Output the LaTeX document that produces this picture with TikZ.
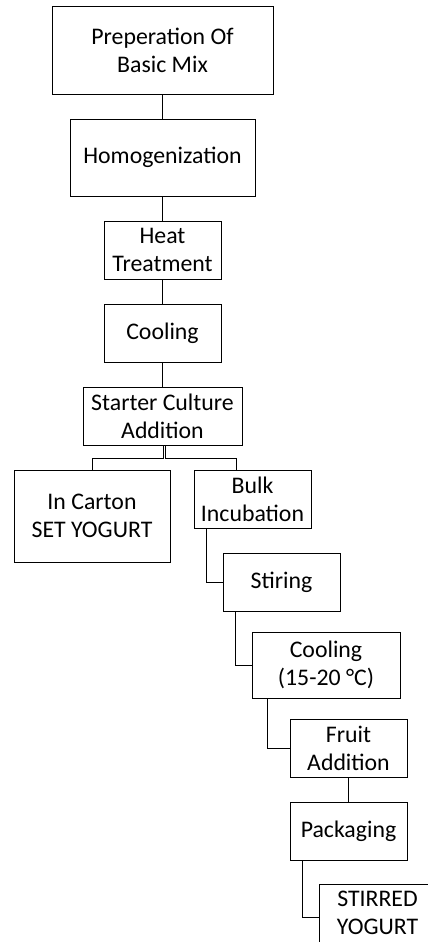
\documentclass[tikz,border=0pt]{standalone}
\usepackage{fontspec}
\setmainfont{Carlito}
\usepackage{tikz}

\begin{document}
\begin{tikzpicture}[x=1pt,y=-1pt,
        main/.style = {draw, rectangle, align=center, inner sep=0pt, line width=1pt,
                       font=\fontsize{23.8}{28}\selectfont},
        link/.style = {line width=1pt}]
        \clip (0,0) rectangle (428,942);
        \node[main, minimum width=221pt, minimum height=87pt] (1) at (162.5,50.5) {Preperation Of\\Basic Mix};
        \node[main, minimum width=185pt, minimum height=77pt] (2) at (162.5,157.5) {Homogenization};
        \node[main, minimum width=117pt, minimum height=58pt] (3) at (162.5,250) {Heat\\Treatment};
        \node[main, minimum width=117pt, minimum height=58pt] (4) at (162.5,333) {Cooling};
        \node[main, minimum width=159pt, minimum height=58pt] (5) at (162.5,416) {Starter Culture\\Addition};
        \node[main, minimum width=156pt, minimum height=92pt] (6) at (92,516) {In Carton\\SET YOGURT};
        \node[main, minimum width=117pt, minimum height=58pt] (7) at (252.5,499) {Bulk\\Incubation};
        \node[main, minimum width=117pt, minimum height=58pt] (8) at (281.5,582) {Stiring};
        \node[main, minimum width=148pt, minimum height=66pt] (9) at (326,665) {Cooling\\(15-20 °C)};
        \node[main, minimum width=117pt, minimum height=58pt] (10) at (348.5,748) {Fruit\\Addition};
        \node[main, minimum width=117pt, minimum height=58pt] (11) at (348.5,831) {Packaging};
        \node[main, minimum width=117pt, minimum height=58pt] (12) at (377.5,913) {STIRRED\\YOGURT};
        \draw[link] (1) -- (2);
        \draw[link] (2) -- (3);
        \draw[link] (3) -- (4);
        \draw[link] (4) -- (5);
        \draw[link] ([xshift=0.5pt]5.south) -- ++(0,13) -| (6.north);
        \draw[link] ([xshift=2.5pt]5.south) -- ++(0,13) -| ([xshift=-16.5pt]7.north);
        \draw[link] ([xshift=-46.5pt]7.south) |- (8.west);
        \draw[link] ([xshift=-46.5pt]8.south) |- (9.west);
        \draw[link] ([xshift=-59pt]9.south) |- (10.west);
        \draw[link] (10) -- (11);
        \draw[link] ([xshift=-46.5pt]11.south) |- ([yshift=-4pt]12.west);
\end{tikzpicture}
\end{document}
